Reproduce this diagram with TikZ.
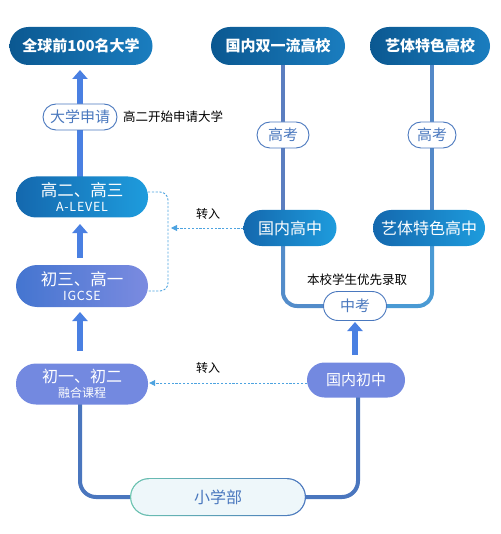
\documentclass[tikz,border=0pt]{standalone}
\usepackage{fontspec}
\setmainfont{Noto Sans CJK SC}
\usetikzlibrary{arrows.meta,backgrounds}
\definecolor{dkA}{HTML}{0B5891}
\definecolor{dkB}{HTML}{1A7DBF}
\definecolor{mdA}{HTML}{1468AE}
\definecolor{mdB}{HTML}{1E9CDD}
\definecolor{puA}{HTML}{4475D0}
\definecolor{puB}{HTML}{7B8BE0}
\definecolor{pu}{HTML}{7389E0}
\definecolor{arr}{HTML}{4A80E2}
\definecolor{lnA}{HTML}{5B7EC0}
\definecolor{lnB}{HTML}{4A9AD4}
\definecolor{lnC}{HTML}{4A76BE}
\definecolor{dashcol}{HTML}{4DA3E0}
\definecolor{lbl}{HTML}{4A78BE}
\definecolor{prF}{HTML}{EEF7FA}
\definecolor{tealc}{HTML}{6CC4B0}
\tikzset{
  pill/.style={rounded corners=#1, inner sep=0pt, text=white, align=center},
  top/.style={pill=19pt, left color=dkA, right color=dkB, minimum height=38pt, font=\fontsize{15}{17}\selectfont\bfseries},
  mid/.style={pill=18pt, left color=mdA, right color=mdB, minimum height=36pt, font=\fontsize{16}{18}\selectfont},
  lab/.style={rounded corners=13pt, draw=lbl, line width=0.9pt, fill=white, text=lbl, inner sep=0pt, minimum height=26pt, font=\fontsize{15}{17}\selectfont},
  note/.style={text=black, inner sep=0pt, font=\fontsize{12.5}{14}\selectfont},
  bigarrow/.style={line width=6pt, arr, -{Triangle[width=15pt,length=9pt]}},
  vline/.style={line width=4pt, line cap=butt},
  dashline/.style={draw=dashcol, line width=0.9pt, dash pattern=on 2.2pt off 1.6pt},
  dasharrow/.style={dashline, -{Triangle[width=6pt,length=6pt]}},
}
\newfontfamily\latinsp[LetterSpace=6]{Noto Sans CJK SC}
\begin{document}
\begin{tikzpicture}[x=1pt,y=-1pt]
\useasboundingbox (0,0) rectangle (500,534);
% top row
\node[top, minimum width=143pt] (uni) at (81,46) {全球前100名大学};
\node[top, minimum width=134pt] (dom) at (278,46) {国内双一流高校};
\node[top, minimum width=120pt] (art) at (430,46) {艺体特色高校};
% left column
\node[lab, minimum width=74pt] (apply) at (80,117) {大学申请};
\node[note, anchor=west] (applynote) at (123,117) {高二开始申请大学};
\node[pill=20pt, left color=mdA, right color=mdB, minimum width=132pt, minimum height=41pt] (al) at (82,197)
  {{\fontsize{16.5}{17}\selectfont 高二、高三}\\[3pt]{\latinsp\fontsize{12.5}{13}\selectfont A-LEVEL}};
\node[pill=21pt, left color=puA, right color=puB, minimum width=132pt, minimum height=42pt] (ig) at (82,286)
  {{\fontsize{16.5}{17}\selectfont 初三、高一}\\[3pt]{\latinsp\fontsize{12.5}{13}\selectfont IGCSE}};
\node[pill=20pt, fill=pu, minimum width=132pt, minimum height=41pt] (jr) at (82,384)
  {{\fontsize{16}{17}\selectfont 初一、初二}\\[3pt]{\fontsize{12}{13}\selectfont 融合课程}};
% right side
\node[lab, minimum width=52pt] (gk1) at (283,135) {高考};
\node[lab, minimum width=48pt] (gk2) at (432,135) {高考};
\node[mid, minimum width=93pt] (dgz) at (290,228) {国内高中};
\node[mid, minimum width=112pt] (agz) at (429,228) {艺体特色高中};
\node[note] (prio) at (357,280) {本校学生优先录取};
\node[lab, minimum width=63pt, minimum height=29pt, rounded corners=14.5pt] (zk) at (355,306) {中考};
\node[pill=17.5pt, fill=pu, minimum width=98pt, minimum height=35pt, font=\fontsize{15}{17}\selectfont] (djz) at (356,380) {国内初中};
% primary
\node[rounded corners=19pt, left color=tealc, right color=lnC, minimum width=176pt, minimum height=38pt, inner sep=0pt] (primb) at (218,497) {};
\node[rounded corners=18pt, fill=prF, minimum width=173.6pt, minimum height=35.6pt, inner sep=0pt, text=lbl, font=\fontsize{16}{18}\selectfont] (prim) at (218,497) {小学部};
% transfer labels
\node[note, font=\fontsize{12}{14}\selectfont] (t1) at (208,214) {转入};
\node[note, font=\fontsize{12}{14}\selectfont] (t2) at (208,368) {转入};
\coordinate (bt) at (148,192);
\coordinate (bb) at (148,291);
\coordinate (bm) at (171,228);
\begin{pgfonlayer}{background}
  % big arrows
  \draw[bigarrow, shorten >=5pt] (80,177) -- (80,65);
  \draw[bigarrow, shorten <=7pt, shorten >=6pt] (80,265) -- (80,218);
  \draw[bigarrow, shorten <=12pt, shorten >=5pt] (80,363) -- (80,307);
  \draw[bigarrow, shorten <=7pt, shorten >=1pt] (355,362) -- (355,321);
  % verticals top right
  \draw[vline, lnA] (gk1 |- dom.south) -- (gk1 |- dgz.north);
  \draw[vline, lnA!60!lnB] (gk2 |- art.south) -- (gk2 |- agz.north);
  \draw[vline, lnA!50!lnB, rounded corners=14pt] (gk1 |- dgz.south) |- (zk.west);
  \draw[vline, lnB, rounded corners=14pt] (gk2 |- agz.south) |- (zk.east);
  % bottom
  \draw[vline, lnC, rounded corners=16pt] (80,404) |- (primb.west);
  \draw[vline, lnC, rounded corners=16pt] (358,397) |- (primb.east);
\end{pgfonlayer}
% dashed
\draw[dashline, rounded corners=8pt] (bt) -| (168,240) |- (bb);
\draw[dasharrow] (dgz.west) -- (bm);
\draw[dasharrow, shorten >=1pt] (djz.west |- 0,383) -- (jr.east |- 0,383);
\end{tikzpicture}
\end{document}
